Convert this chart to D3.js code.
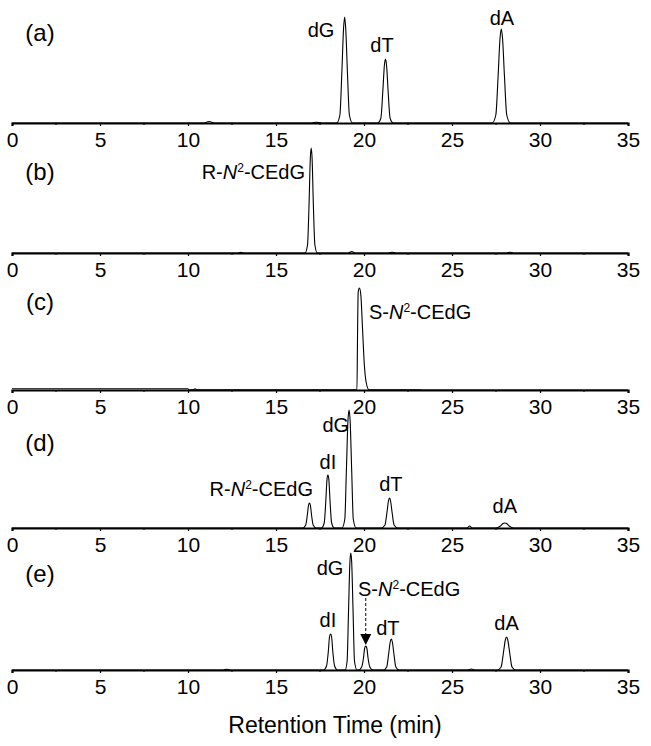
<!DOCTYPE html>
<html><head><meta charset="utf-8">
<script src="https://cdn.jsdelivr.net/npm/d3@7"></script>
<style>body{margin:0;background:#fff}svg{display:block}text{font-family:"Liberation Sans",Arial,sans-serif;fill:#000}</style>
</head><body>
<script>
// ---------- data ----------
const panels = ["(a)", "(b)", "(c)", "(d)", "(e)"];
const xTicks = [0, 5, 10, 15, 20, 25, 30, 35];
const xTitle = "Retention Time (min)";

// chromatogram traces: [retention time (min), signal]
const traceA = [[0,0],[10.9,0],[11.2,1.5],[11.5,0],[17.0,0],[17.3,0.8],[17.6,0],
  [18.45,0],[18.63,8],[18.74,50],[18.84,95],[18.9,106],[18.96,95],[19.06,50],[19.17,8],[19.35,0],
  [20.78,0],[20.96,5],[21.07,32],[21.16,58],[21.22,64],[21.28,58],[21.37,32],[21.48,5],[21.66,0],
  [27.28,0],[27.49,8],[27.62,47],[27.73,85],[27.8,94],[27.87,85],[27.98,47],[28.11,8],[28.32,0],[35,0]];
const traceB = [[0,0],[12.8,0],[13.0,0.6],[13.2,0],[16.65,0],[16.79,8],[16.88,50],[16.95,95],[17.0,105],[17.05,95],[17.12,50],[17.21,8],[17.35,0],
  [19.1,0],[19.3,1.5],[19.5,0],[21.4,0],[21.6,0.8],[21.8,0],[28.1,0],[28.3,0.8],[28.5,0],[35,0]];
const traceC = [[0,1.2],[10,1.2],[10.05,0.3],[10.3,0.3],[10.4,1.2],[10.5,0.3],[19.6,0.3],[19.63,50],[19.67,98],[19.74,102],[19.82,95],[19.92,60],[20.02,25],[20.12,8],[20.28,0.3],[23.2,0.3],[23.3,0],[35,0]];
const traceD = [[0,0],[16.52,0],[16.69,3],[16.78,13],[16.85,23],[16.9,25],[16.95,23],[17.02,13],[17.11,3],[17.28,0],
  [17.58,0],[17.74,5],[17.83,27],[17.9,49],[17.95,53],[18.0,49],[18.07,27],[18.16,5],[18.32,0],
  [18.75,0],[18.91,9],[19.0,58],[19.09,108],[19.15,118],[19.21,108],[19.3,58],[19.39,9],[19.55,0],
  [20.98,0],[21.19,3],[21.3,15],[21.39,27],[21.45,30],[21.51,27],[21.6,15],[21.71,3],[21.92,0],
  [25.85,0],[26.0,2],[26.15,0],
  [27.5,0],[27.75,2],[27.9,4.5],[28.0,5],[28.1,4.5],[28.25,2],[28.5,0],[35,0]];
const traceE = [[0,0],[12.0,0],[12.2,0.8],[12.4,0],
  [17.7,0],[17.87,4],[17.97,18],[18.04,33],[18.1,36],[18.16,33],[18.23,18],[18.33,4],[18.5,0],
  [18.93,0],[19.04,9],[19.12,58],[19.2,108],[19.25,117],[19.3,108],[19.38,58],[19.46,9],[19.6,0],
  [19.7,0],[19.87,3],[19.97,12],[20.04,22],[20.1,24],[20.16,22],[20.23,12],[20.33,3],[20.5,0],
  [21.11,0],[21.29,3],[21.4,16],[21.49,28],[21.55,31],[21.61,28],[21.7,16],[21.81,3],[21.99,0],
  [25.9,0],[26.1,1],[26.3,0],
  [27.58,0],[27.79,3],[27.92,17],[28.03,30],[28.1,33],[28.17,30],[28.28,17],[28.41,3],[28.62,0],[35,0]];
const traces = [traceA, traceB, traceC, traceD, traceE];

// peak labels: [panel, text, time (min), signal, anchor]
const peakLabels = [
  [0,"dG",17.56,93,"middle"],[0,"dT",21.02,78,"middle"],[0,"dA",27.84,105,"middle"],
  [1,"R-|N|2|-CEdG",16.65,81,"end"],
  [2,"S-|N|2|-CEdG",20.28,78,"start"],
  [3,"R-|N|2|-CEdG",17.1,39,"end"],[3,"dI",17.95,66,"middle"],[3,"dG",18.4,103,"middle"],[3,"dT",21.53,44,"middle"],[3,"dA",28.0,22,"middle"],
  [4,"dG",18.07,102,"middle"],[4,"S-|N|2|-CEdG",19.66,81,"start"],[4,"dI",17.95,50,"middle"],[4,"dT",21.36,42,"middle"],[4,"dA",28.1,47,"middle"]
];
// arrow in (e): time, signal from, signal to (tip)
const arrowE = [20.1, 72, 25];

// ---------- layout ----------
const W = 651, H = 746;
const baselines = [123, 253, 390, 528, 670];
const letterY = [33, 172, 302, 443, 574];
const svg = d3.select("body").append("svg").attr("width", W).attr("height", H);
const x = d3.scaleLinear().domain([0, 35]).range([12, 628]);

panels.forEach((p, i) => {
  const b = baselines[i];
  const y = d3.scaleLinear().domain([0, 120]).range([b, b - 120]);
  const g = svg.append("g");
  // axis
  const axis = d3.axisBottom(x).tickValues(xTicks).tickSize(3).tickPadding(6).tickFormat(d3.format("d"));
  const ag = g.append("g").attr("transform", `translate(0,${b})`).call(axis);
  ag.select(".domain").attr("stroke", "#000").attr("stroke-width", 2.2);
  ag.selectAll(".tick line").attr("stroke", "#000").attr("stroke-width", 1.2);
  ag.selectAll(".tick text").attr("font-size", 21).attr("font-family", '"Liberation Sans",Arial,sans-serif').attr("fill", "#000");
  // minor ticks
  g.selectAll(".minor").data(d3.range(2.5, 35, 5)).enter().append("line")
    .attr("x1", d => x(d)).attr("x2", d => x(d)).attr("y1", b).attr("y2", b + 2)
    .attr("stroke", "#000").attr("stroke-width", 1);
  // trace
  const line = d3.line().x(d => x(d[0])).y(d => y(d[1])).curve(d3.curveMonotoneX);
  g.append("path").datum(traces[i]).attr("d", line).attr("fill", "none")
    .attr("stroke", "#000").attr("stroke-width", 1.1).attr("stroke-linejoin", "round");
  // panel letter
  g.append("text").attr("x", 40).attr("y", letterY[i]).attr("dy", "0.35em")
    .attr("text-anchor", "middle").attr("font-size", 24).text(p);
  // peak labels
  peakLabels.filter(l => l[0] === i).forEach(l => {
    const t = g.append("text").attr("x", x(l[2])).attr("y", y(l[3])).attr("dy", "0.35em")
      .attr("text-anchor", l[4]).attr("font-size", 20);
    const parts = l[1].split("|");
    if (parts.length === 1) { t.text(l[1]); }
    else {
      t.append("tspan").text(parts[0]);
      t.append("tspan").attr("font-style", "italic").text(parts[1]);
      t.append("tspan").attr("font-size", 12).attr("dy", -7).text(parts[2]);
      t.append("tspan").attr("dy", 7).text(parts[3]);
    }
  });
  if (i === 4) {
    const ax = x(arrowE[0]);
    g.append("line").attr("x1", ax).attr("x2", ax).attr("y1", y(arrowE[1])).attr("y2", y(arrowE[2]) - 9)
      .attr("stroke", "#000").attr("stroke-width", 1).attr("stroke-dasharray", "3,2");
    const tip = y(arrowE[2]);
    g.append("path").attr("d", `M${ax - 5.5},${tip - 11}L${ax + 5.5},${tip - 11}L${ax},${tip}Z`).attr("fill", "#000");
  }
});

svg.append("text").attr("x", 335).attr("y", 725).attr("dy", "0.35em").attr("text-anchor", "middle")
  .attr("font-size", 23).text(xTitle);
</script>
</body></html>
